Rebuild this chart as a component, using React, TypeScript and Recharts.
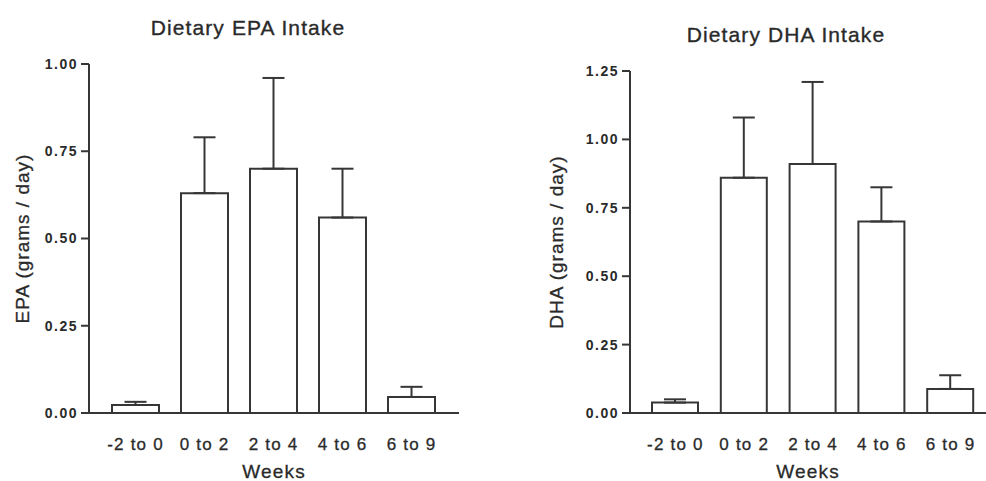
import React from 'react';
import { BarChart, Bar, XAxis, YAxis, ErrorBar } from 'recharts';

// time windows on the x axis
const weeks = ['-2 to 0', '0 to 2', '2 to 4', '4 to 6', '6 to 9'];

// mean intake and upper SD (only the upper whisker is drawn)
const epaMean = [0.023, 0.63, 0.70, 0.56, 0.046];
const epaSd = [0.009, 0.16, 0.26, 0.14, 0.029];
const dhaMean = [0.038, 0.86, 0.91, 0.70, 0.088];
const dhaSd = [0.012, 0.22, 0.30, 0.125, 0.05];

const epaTicks = [0, 0.25, 0.5, 0.75, 1];
const dhaTicks = [0, 0.25, 0.5, 0.75, 1, 1.25];

const epaData = weeks.map((w, i) => ({ week: w, value: epaMean[i], err: [0, epaSd[i]] }));
const dhaData = weeks.map((w, i) => ({ week: w, value: dhaMean[i], err: [0, dhaSd[i]] }));

const FONT = '"Liberation Sans", Arial, Helvetica, sans-serif';
const INK = '#2a2a2a';
const LINE = '#363636';

const xTick = { fill: INK, stroke: INK, strokeWidth: 0.3, fontSize: 17, fontFamily: FONT, letterSpacing: 1.2 };
const yTick = { fill: INK, fontSize: 14, fontWeight: 700, fontFamily: FONT, letterSpacing: 1.5 };

interface PanelProps {
  data: { week: string; value: number; err: number[] }[];
  ticks: number[];
  yLabel: string;
  left: number;
  marginTop: number;
  marginRight: number;
  axisWidth: number;
  labelOffset: number;
  padLeft: number;
  padRight: number;
  barSize: number;
}

const Panel: React.FC<PanelProps> = ({ data, ticks, yLabel, left, marginTop, marginRight, axisWidth, labelOffset, padLeft, padRight, barSize }) => (
  <div style={{ position: 'absolute', left, top: 0 }}>
    <BarChart width={493} height={481} data={data} margin={{ top: marginTop, right: marginRight, bottom: 0, left: 0 }} barSize={barSize}>
      <XAxis
        dataKey="week"
        height={68}
        padding={{ left: padLeft, right: padRight }}
        tickLine={false}
        tickSize={0}
        tickMargin={25}
        tick={xTick}
        axisLine={{ stroke: LINE, strokeWidth: 2 }}
        label={{
          value: 'Weeks',
          position: 'insideBottom',
          offset: 3,
          style: { fill: INK, stroke: INK, strokeWidth: 0.3, fontSize: 19, fontFamily: FONT, letterSpacing: 1.2 },
        }}
      />
      <YAxis
        width={axisWidth}
        domain={[ticks[0], ticks[ticks.length - 1]]}
        ticks={ticks}
        interval={0}
        tickFormatter={(v: number) => v.toFixed(2)}
        tickSize={8}
        tickMargin={3}
        tick={yTick}
        tickLine={{ stroke: LINE, strokeWidth: 2 }}
        axisLine={{ stroke: LINE, strokeWidth: 2 }}
        label={{
          value: yLabel,
          angle: -90,
          position: 'insideLeft',
          offset: labelOffset,
          style: { textAnchor: 'middle', fill: INK, stroke: INK, strokeWidth: 0.3, fontSize: 19, fontFamily: FONT, letterSpacing: 1 },
        }}
      />
      <Bar dataKey="value" fill="#ffffff" stroke={LINE} strokeWidth={2} isAnimationActive={false}>
        <ErrorBar dataKey="err" direction="y" width={11} stroke={LINE} strokeWidth={2} isAnimationActive={false} />
      </Bar>
    </BarChart>
  </div>
);

const titleStyle: React.CSSProperties = {
  position: 'absolute',
  width: 320,
  textAlign: 'center',
  fontFamily: FONT,
  fontSize: 21,
  lineHeight: '21px',
  letterSpacing: 1.1,
  color: INK,
  WebkitTextStroke: '0.35px #2a2a2a',
  whiteSpace: 'nowrap',
};

export default function App() {
  return (
    <div style={{ position: 'absolute', left: 0, top: 0, width: 986, height: 481, overflow: 'hidden', background: '#fff' }}>
      <div style={{ ...titleStyle, left: 248 - 160, top: 17 }}>Dietary EPA Intake</div>
      <div style={{ ...titleStyle, left: 786 - 160, top: 24 }}>Dietary DHA Intake</div>
      <Panel
        data={epaData}
        ticks={epaTicks}
        yLabel="EPA (grams / day)"
        left={0}
        marginTop={64}
        marginRight={34}
        axisWidth={89}
        labelOffset={22}
        padLeft={12}
        padRight={13}
        barSize={47}
      />
      <Panel
        data={dhaData}
        ticks={dhaTicks}
        yLabel="DHA (grams / day)"
        left={493}
        marginTop={71}
        marginRight={0}
        axisWidth={137}
        labelOffset={63}
        padLeft={11}
        padRight={1}
        barSize={46}
      />
    </div>
  );
}
